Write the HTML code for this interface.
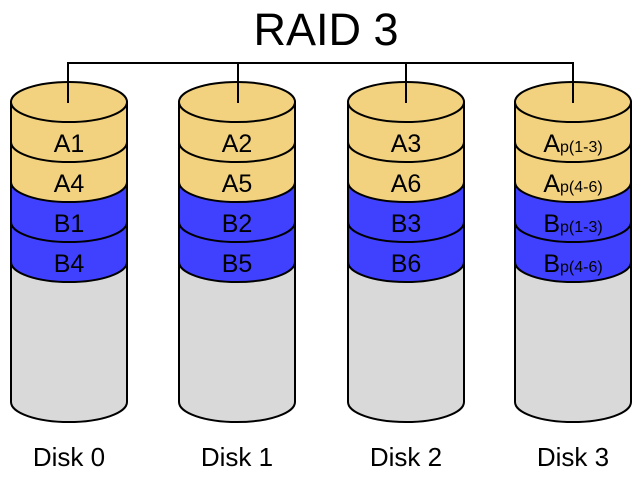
<!DOCTYPE html>
<html><head><style>body{margin:0;background:#fff}</style></head><body>
<svg width="641" height="480" viewBox="0 0 641 480" xmlns="http://www.w3.org/2000/svg" font-family="'Liberation Sans', sans-serif">
<text x="326" y="45" font-size="45" text-anchor="middle">RAID 3</text>
<path d="M68 103 V63 H573 V103 M238 63 V103 M406 63 V103" fill="none" stroke="#000" stroke-width="2"/>
<defs>
<g id="cyl">
<path d="M-58 102 V402 A58 20 0 0 0 58 402 V102 Z" fill="#d9d9d9" stroke="#000" stroke-width="2"/>
<path d="M-58 102 V262 A58 20 0 0 0 58 262 V102 Z" fill="#4040ff" stroke="#000" stroke-width="2"/>
<path d="M-58 102 V182 A58 20 0 0 0 58 182 V102 Z" fill="#f2d27e" stroke="#000" stroke-width="2"/>
<path d="M-58 142 A58 20 0 0 0 58 142 M-58 222 A58 20 0 0 0 58 222" fill="none" stroke="#000" stroke-width="2"/>
<ellipse cx="0" cy="102" rx="58" ry="20" fill="#f2d27e" stroke="#000" stroke-width="2"/>
</g>
</defs>
<use href="#cyl" x="69" y="0"/>
<use href="#cyl" x="237" y="0"/>
<use href="#cyl" x="406" y="0"/>
<use href="#cyl" x="573" y="0"/>
<path d="M68 63 V103 M238 63 V103 M406 63 V103 M573 63 V103" stroke="#000" stroke-width="2"/>
<g font-size="25" text-anchor="middle">
<text x="69" y="152">A1</text><text x="69" y="192">A4</text><text x="69" y="232">B1</text><text x="69" y="272">B4</text>
<text x="237" y="152">A2</text><text x="237" y="192">A5</text><text x="237" y="232">B2</text><text x="237" y="272">B5</text>
<text x="406" y="152">A3</text><text x="406" y="192">A6</text><text x="406" y="232">B3</text><text x="406" y="272">B6</text>
<text x="573" y="152">A<tspan font-size="16">p(1-3)</tspan></text>
<text x="573" y="192">A<tspan font-size="16">p(4-6)</tspan></text>
<text x="573" y="232">B<tspan font-size="16">p(1-3)</tspan></text>
<text x="573" y="272">B<tspan font-size="16">p(4-6)</tspan></text>
</g>
<g font-size="26" text-anchor="middle">
<text x="69" y="466">Disk 0</text><text x="237" y="466">Disk 1</text><text x="406" y="466">Disk 2</text><text x="573" y="466">Disk 3</text>
</g>
</svg>
</body></html>
